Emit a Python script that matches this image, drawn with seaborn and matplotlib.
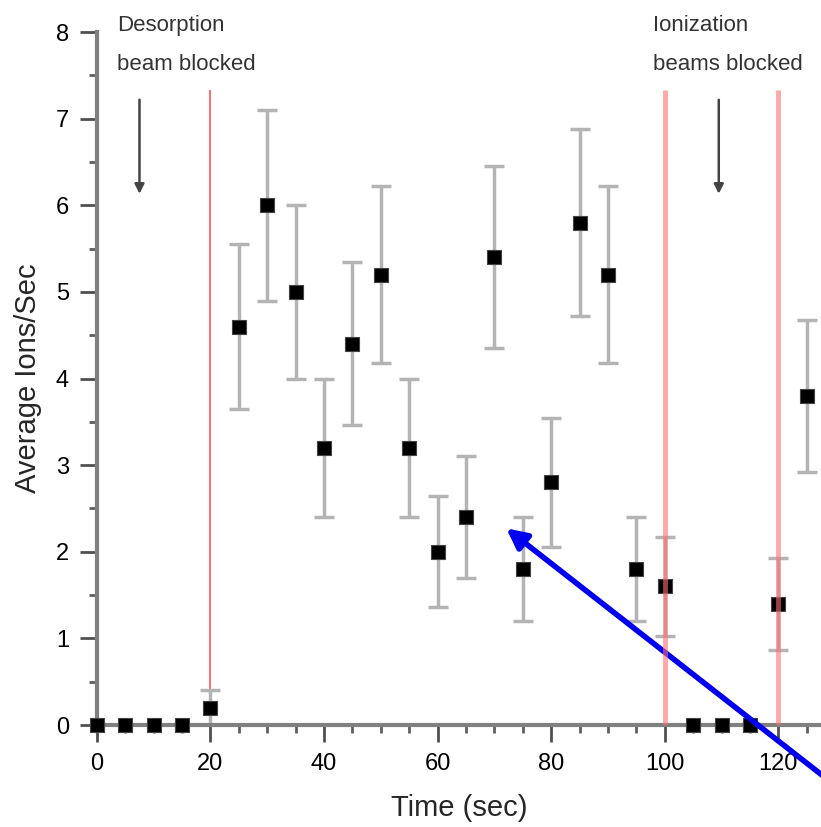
"""
Average ion rate versus time, with blocked-beam markers.
"""

import numpy as np
import pandas as pd
import seaborn as sns
import matplotlib.pyplot as plt
from matplotlib.ticker import MultipleLocator

# data
time_sec = [0, 5, 10, 15, 20, 25, 30, 35, 40, 45, 50, 55, 60, 65, 70, 75,
            80, 85, 90, 95, 100, 105, 110, 115, 120, 125]
ions_per_sec = [0, 0, 0, 0, 0.2, 4.6, 6.0, 5.0, 3.2, 4.4, 5.2, 3.2, 2.0, 2.4,
                5.4, 1.8, 2.8, 5.8, 5.2, 1.8, 1.6, 0, 0, 0, 1.4, 3.8]
ions_err = [0, 0, 0, 0, 0.2, 0.95, 1.1, 1.0, 0.8, 0.94, 1.02, 0.8, 0.64, 0.7,
            1.05, 0.6, 0.75, 1.08, 1.02, 0.6, 0.57, 0, 0, 0, 0.53, 0.88]
blocked_times = [20, 100, 120]

df = pd.DataFrame({'time': time_sec, 'ions': ions_per_sec, 'err': ions_err})

sns.set_style('ticks')
plt.rcParams['font.family'] = ['Liberation Sans', 'DejaVu Sans']

fig = plt.figure(figsize=(8.21, 8.27), dpi=100)
ax = fig.add_axes([0.118, 0.1233, 0.882, 0.838])

# blocked-beam lines (the later two sit over the points)
ax.vlines(blocked_times[0], 0, 7.33, color='#ff5555', lw=1.2, zorder=1)
ax.vlines(blocked_times[1:], 0, 7.33, color='#ff6f6f', lw=3.5, alpha=0.6,
          zorder=4)

# error bars
has_err = df[df['err'] > 0]
ax.errorbar(has_err['time'], has_err['ions'], yerr=has_err['err'], fmt='none',
            ecolor='#b4b4b4', elinewidth=2.5, capsize=7, capthick=2.5,
            zorder=2)

sns.scatterplot(data=df, x='time', y='ions', marker='s', color='black',
                s=100, edgecolor='#444444', linewidth=0.8, ax=ax, zorder=3,
                clip_on=False)

ax.set_xlim(0, 127.5)
ax.set_ylim(0, 8)
ax.xaxis.set_major_locator(MultipleLocator(20))
ax.xaxis.set_minor_locator(MultipleLocator(5))
ax.yaxis.set_major_locator(MultipleLocator(1))
ax.yaxis.set_minor_locator(MultipleLocator(0.5))

for side in ['top', 'right']:
    ax.spines[side].set_visible(False)
for side in ['left', 'bottom']:
    ax.spines[side].set_color('#808080')
    ax.spines[side].set_linewidth(3)

ax.tick_params(which='major', length=12, width=2, color='#505050',
               labelsize=17, pad=8, labelcolor='black')
ax.tick_params(which='minor', length=6, width=2, color='#606060')

ax.set_xlabel('Time (sec)', fontsize=21, labelpad=14)
ax.set_ylabel('Average Ions/Sec', fontsize=21, labelpad=10)

# annotations
for tx, ty, label in [(3.5, 8.07, 'Desorption'), (3.5, 7.63, 'beam blocked'),
                      (98, 8.07, 'Ionization'), (98, 7.63, 'beams blocked')]:
    ax.text(tx, ty, label, fontsize=16, color='#333333',
            ha='left', va='center', clip_on=False)

for ax_x in [7.5, 109.5]:
    ax.annotate('', xy=(ax_x, 6.1), xytext=(ax_x, 7.25),
                arrowprops=dict(arrowstyle='-|>', color='#444444', lw=1.8,
                                mutation_scale=14))

ax.annotate('', xy=(71.7, 2.29), xytext=(128.5, -0.62),
            arrowprops=dict(arrowstyle='-|>', color='#0000ee', lw=4,
                            mutation_scale=30),
            annotation_clip=False)

fig.savefig('out.png', dpi=100)
